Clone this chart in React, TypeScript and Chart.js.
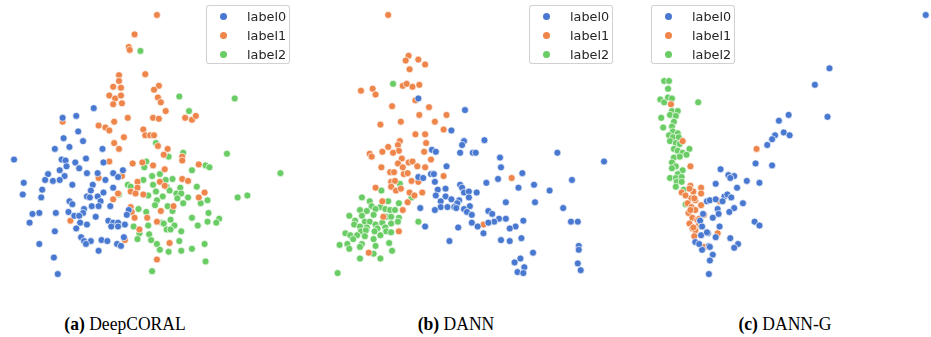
import React, { useEffect, useRef } from "react";
import { Chart, registerables } from "chart.js";

Chart.register(...registerables);

// ---- Data (t-SNE embedding coordinates) ----
const seriesNames = ["label0", "label1", "label2"];
const panelTitles = ["DeepCORAL", "DANN", "DANN-G"];
const panelTags = ["(a)", "(b)", "(c)"];

const coralLabel0: number[][] = [
  [92,107],[60,117],[74,115],[76,131],[61,138],[81,141],[52,149],[67,147],[101,149],
  [10,160],[59,160],[63,161],[84,159],[73,163],[102,163],[64,167],[77,169],[57,171],[45,175],[62,177],[85,174],[96,174],[112,174],[122,171],[42,181],[50,182],[57,181],[104,181],[117,178],[20,184],[70,186],[91,186],[112,189],[39,191],[89,192],[102,194],[19,196],[85,198],[88,199],[96,198],[38,199],[67,203],[99,203],[70,206],[90,208],[97,208],[109,208],[82,211],[128,212],[66,214],[36,215],[29,216],[53,215],[81,215],[72,218],[77,218],[94,219],[126,217],[107,223],[112,225],[117,225],[26,225],[78,225],[85,227],[124,227],[110,229],[117,229],[74,231],[52,234],[79,240],[100,243],[106,244],[89,244],[82,244],[36,247],[84,247],[116,247],[120,249],[123,240],[97,254],[51,261],[55,278]
];
const coralLabel1: number[][] = [
  [157,11],[134,31],[128,44],[129,47],[118,73],[145,72],[118,79],[112,85],[120,86],[159,84],[154,88],[108,94],[114,97],[120,94],[158,96],[161,101],[112,103],[121,102],[166,110],[127,117],[153,117],[159,118],[186,117],[193,119],[197,115],[60,121],[113,121],[97,125],[104,127],[108,130],[143,129],[145,135],[150,135],[154,135],[123,137],[113,143],[158,146],[168,149],[118,149],
  [164,155],[183,157],[183,161],[108,162],[132,164],[142,163],[153,166],[200,165],[165,170],[121,177],[97,179],[183,180],[189,182],[137,183],[160,183],[165,187],[137,189],[130,193],[135,195],[143,196],[117,195],[206,194],[112,201],[200,199],[130,209],[174,208],[161,213],[131,214],[147,220],[134,220],[157,224],[68,223],[139,232],[124,243],[170,246],[157,263]
];
const coralLabel2: number[][] = [
  [140,48],[180,95],[237,97],[190,110],[156,143],
  [169,157],[184,153],[229,154],[284,174],[146,162],[144,168],[193,171],[207,166],[211,168],[160,175],[152,177],[173,180],[143,181],[127,186],[130,188],[153,186],[166,181],[167,188],[181,189],[198,188],[170,192],[156,193],[148,197],[163,198],[177,195],[182,195],[118,196],[157,202],[178,200],[189,199],[209,202],[240,199],[250,197],[202,205],[184,205],[155,207],[168,208],[138,211],[146,214],[173,213],[210,215],[193,220],[171,222],[221,221],[162,225],[164,226],[148,228],[175,228],[209,224],[218,225],[199,228],[133,229],[167,232],[171,232],[182,234],[139,236],[149,237],[137,242],[151,243],[180,244],[157,247],[206,247],[193,252],[160,253],[169,255],[182,254],[207,265],[152,275]
];

const dannLabel0: number[][] = [
  [417,97],[465,109],[451,130],[464,141],[462,145],[485,140],[431,150],
  [435,152],[460,153],[473,153],[476,153],[560,153],[608,162],[501,158],[502,168],[446,167],[430,175],[433,175],[417,178],[422,179],[434,183],[524,174],[487,184],[499,180],[575,181],[460,186],[462,189],[520,189],[536,186],[552,192],[437,191],[445,190],[464,194],[469,193],[477,194],[435,197],[445,198],[469,199],[451,201],[459,202],[440,203],[457,205],[507,204],[537,204],[440,209],[447,209],[454,209],[456,210],[470,208],[464,211],[419,210],[566,210],[434,212],[489,213],[493,216],[467,214],[472,217],[500,221],[507,221],[525,223],[495,224],[489,225],[472,225],[478,229],[574,224],[581,224],[517,229],[511,231],[424,229],[458,230],[484,236],[523,241],[502,243],[511,244],[449,244],[582,249],[582,253],[535,256],[522,262],[516,266],[526,271],[519,276],[525,277],[581,267],[584,274]
];
const dannLabel1: number[][] = [
  [386,11],[407,53],[404,58],[417,57],[424,62],[408,67],[358,89],[370,87],[373,93],[401,84],[405,82],[411,85],[418,83],[414,99],[390,105],[428,106],[418,114],[446,114],[378,124],[399,121],[434,121],[443,129],[414,134],[424,134],[398,141],[425,143],[386,147],[396,145],
  [397,151],[380,152],[391,153],[367,154],[369,157],[423,152],[400,159],[430,160],[396,164],[407,163],[411,162],[379,168],[401,168],[416,167],[424,168],[388,173],[392,173],[402,175],[406,174],[443,177],[410,182],[417,183],[389,183],[393,182],[513,179],[389,188],[373,189],[394,192],[399,190],[408,194],[421,194],[413,197],[380,203],[406,204],[401,212],[381,219],[484,227],[397,234],[366,256]
];
const dannLabel2: number[][] = [
  [391,82],
  [398,185],[379,192],[359,199],[410,199],[367,203],[386,203],[369,208],[378,209],[397,205],[357,212],[364,213],[373,211],[383,211],[388,212],[393,212],[346,218],[359,218],[371,217],[384,219],[389,219],[397,220],[352,223],[362,224],[367,224],[373,227],[380,225],[389,226],[396,224],[417,224],[351,227],[357,229],[364,230],[375,231],[383,230],[342,236],[347,238],[358,234],[363,233],[372,234],[384,234],[389,235],[378,238],[354,238],[362,239],[350,242],[371,242],[336,248],[344,247],[359,247],[387,246],[373,249],[346,252],[357,250],[390,254],[371,257],[357,262],[378,262],[334,277]
];

const danngLabel0: number[][] = [
  [930,11],[831,66],[816,83],[789,114],[829,116],[779,120],[784,132],[790,135],[775,135],[772,139],[767,145],
  [755,164],[772,166],[719,170],[727,176],[733,177],[729,179],[746,182],[759,184],[714,185],[736,189],[723,198],[726,196],[730,199],[705,203],[708,202],[714,201],[721,203],[742,205],[716,211],[733,210],[728,214],[717,216],[711,220],[754,224],[759,228],[718,229],[706,236],[714,240],[729,241],[699,238],[737,247],[733,251],[707,249],[700,253],[711,258],[708,264],[707,278],[693,245],[697,247],[701,216],[698,223],[700,229],[705,235],[708,250]
];
const danngLabel1: number[][] = [
  [668,103],[680,141],[756,149],[688,167],[688,187],[699,189],[679,194],[683,197],[691,193],[699,195],[689,200],[693,202],[685,205],[699,207],[689,209],[693,212],[686,215],[702,217],[690,220],[695,222],[687,226],[697,227],[699,229],[690,231],[693,233],[716,236],[692,239],[702,250],[718,203],[687,190],[692,200],[688,212],[697,221],[691,230]
];
const danngLabel2: number[][] = [
  [661,79],[666,79],[665,87],[657,98],[661,101],[665,96],[669,97],[696,101],[669,110],[675,110],[667,114],[673,115],[658,117],[671,121],[660,127],[669,126],[670,131],[675,133],[666,135],[670,137],[676,137],[667,141],[673,143],[677,144],[671,149],[687,149],[675,151],[680,153],[684,155],[671,158],[677,157],[669,163],[673,167],[680,171],[669,169],[675,175],[667,179],[673,179],[679,178],[674,183],[679,183],[673,188],[681,191],[683,206]
];

const panelData = [
  [coralLabel0, coralLabel1, coralLabel2],
  [dannLabel0, dannLabel1, dannLabel2],
  [danngLabel0, danngLabel1, danngLabel2],
];

// ---- Styles / layout ----
const COLORS = ["#4878d0", "#ee854a", "#6acc64"];
const PLOT_H = 290;
const panelBounds = [
  [0, 310],
  [310, 620],
  [620, 931],
];
const legendLeft = [206, 529, 651];
const captionCenter = [125, 456, 785];

function ScatterPanel({ idx }: { idx: number }) {
  const ref = useRef<HTMLCanvasElement | null>(null);
  const [x0, x1] = panelBounds[idx];
  useEffect(() => {
    if (!ref.current) return;
    const chart = new Chart(ref.current, {
      type: "scatter",
      data: {
        datasets: panelData[idx].map((pts, i) => ({
          label: seriesNames[i],
          data: pts.map(([x, y]) => ({ x, y })),
          backgroundColor: COLORS[i],
          borderColor: "rgba(255,255,255,0.85)",
          borderWidth: 0.8,
          pointRadius: 3.5,
          pointHoverRadius: 3.5,
          clip: false as any,
        })),
      },
      options: {
        animation: false,
        responsive: false,
        devicePixelRatio: 1,
        layout: { padding: 0 },
        plugins: { legend: { display: false }, tooltip: { enabled: false } },
        events: [],
        scales: {
          x: { type: "linear", min: x0, max: x1, display: false },
          y: { type: "linear", min: 0, max: PLOT_H, reverse: true, display: false },
        },
      },
    });
    return () => chart.destroy();
  }, [idx]);
  return (
    <canvas
      ref={ref}
      width={x1 - x0}
      height={PLOT_H}
      style={{ position: "absolute", left: x0, top: 0, width: x1 - x0, height: PLOT_H }}
    />
  );
}

function Legend({ idx }: { idx: number }) {
  return (
    <div
      style={{
        position: "absolute",
        left: legendLeft[idx],
        top: 5,
        width: 84,
        height: 59,
        border: "1px solid rgba(204,204,204,0.9)",
        borderRadius: 3,
        background: "rgba(255,255,255,0.85)",
        boxSizing: "border-box",
      }}
    >
      {seriesNames.map((name, i) => (
        <div
          key={name}
          style={{
            position: "absolute",
            left: 0,
            top: 1 + i * 19,
            height: 19,
            width: "100%",
          }}
        >
          <span
            style={{
              position: "absolute",
              left: 13,
              top: 5.5,
              width: 7,
              height: 7,
              borderRadius: "50%",
              background: COLORS[i],
            }}
          />
          <span
            style={{
              position: "absolute",
              left: 40,
              top: 0,
              lineHeight: "19px",
              fontFamily: "'DejaVu Sans', sans-serif",
              fontSize: 12.8,
              color: "#262626",
              whiteSpace: "nowrap",
            }}
          >
            {name}
          </span>
        </div>
      ))}
    </div>
  );
}

export default function App() {
  return (
    <div
      style={{
        position: "fixed",
        left: 0,
        top: 0,
        width: 931,
        height: 337,
        background: "#ffffff",
        overflow: "hidden",
      }}
    >
      {[0, 1, 2].map((i) => (
        <ScatterPanel key={"p" + i} idx={i} />
      ))}
      {[0, 1, 2].map((i) => (
        <Legend key={"l" + i} idx={i} />
      ))}
      {[0, 1, 2].map((i) => (
        <div
          key={"c" + i}
          style={{
            position: "absolute",
            left: captionCenter[i] - 120,
            width: 240,
            top: 313,
            textAlign: "center",
            fontFamily: "'Liberation Serif', 'Times New Roman', serif",
            fontSize: 19.5,
            lineHeight: "22px",
            color: "#000",
            whiteSpace: "nowrap",
            transform: "scaleX(0.9)",
          }}
        >
          <b>{panelTags[i]}</b> {panelTitles[i]}
        </div>
      ))}
    </div>
  );
}
